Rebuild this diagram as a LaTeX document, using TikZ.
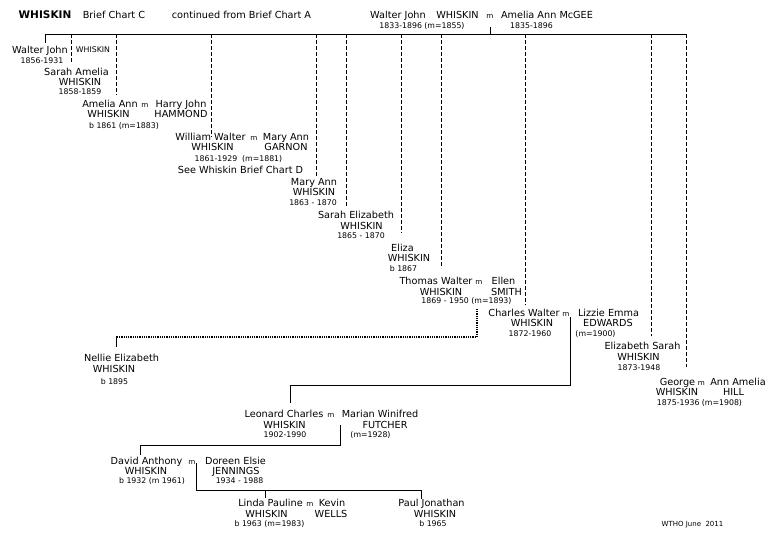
\documentclass[tikz,border=0pt]{standalone}
\usepackage{fontspec}
\setmainfont{DejaVu Sans}
\newcommand\myN{\fontsize{9.7}{11}\selectfont}
\newcommand\myD{\fontsize{7.8}{9}\selectfont}
\newcommand\myM{\fontsize{7.2}{8}\selectfont}
\newcommand\myH{\fontsize{10.5}{12}\selectfont\bfseries}
\newcommand\myS{\fontsize{7}{8}\selectfont}
\tikzset{
  nm/.style={font=\myN, anchor=base, inner sep=0pt},
  dt/.style={font=\myD, anchor=base, inner sep=0pt},
  mm/.style={font=\myM, anchor=base, inner sep=0pt},
  ln/.style={line width=0.8pt},
  dl/.style={line width=0.9pt, dash pattern=on 4pt off 2pt},
  dotl/.style={line width=1.3pt, dash pattern=on 1pt off 0.8pt},
}
\begin{document}
\begin{tikzpicture}[x=1pt,y=-1pt]
\fill[white] (0,0) rectangle (780,546);
\useasboundingbox (0,0) rectangle (780,546);

% header
\node[font=\myH, anchor=base, inner sep=0pt] (hW) at (45,19) {WHISKIN};
\node[nm] (hB) at (114,18.5) {Brief Chart C};
\node[nm] (hC) at (241.5,18.5) {continued from Brief Chart A};
\node[nm] (pWJ) at (398,18.5) {Walter John};
\node[nm] (pWH) at (457.5,18.5) {WHISKIN};
\node[mm] (pm) at (490,18.5) {m};
\node[nm] (pAA) at (547,18.5) {Amelia Ann McGEE};
\node[dt] (pd1) at (422,28) {1833-1896 (m=1855)};
\node[dt] (pd2) at (531.5,28) {1835-1896};

% bar
\coordinate (barL) at (45,34);
\coordinate (barR) at (686,34);
\coordinate (parT) at (490.5,27);
\coordinate (parB) at (490.5,34);
\draw[ln] (barL) -- (barR);
\draw[ln] (parT) -- (parB);

% child 1
\node[nm] (c1a) at (40,53.5) {Walter John};
\node[font=\fontsize{7.8}{9}\selectfont, anchor=base, inner sep=0pt] (c1b) at (93,52.8) {WHISKIN};
\node[dt] (c1c) at (42,63.8) {1856-1931};
\coordinate (e45) at (45,43);
\draw[ln] (barL) -- (e45);

% child 2
\node[nm] (c2a) at (76.5,75.5) {Sarah Amelia};
\node[nm] (c2b) at (80,85.5) {WHISKIN};
\node[dt] (c2c) at (80,94.8) {1858-1859};
\coordinate (t71) at (71,34); \coordinate (e71) at (71,62);
\draw[dl] (t71) -- (e71);

% child 3
\node[nm] (c3a) at (110,107.5) {Amelia Ann};
\node[mm] (c3m) at (145,107.5) {m};
\node[nm] (c3s) at (181,107.5) {Harry John};
\node[nm] (c3b) at (108.5,117.5) {WHISKIN};
\node[nm] (c3t) at (181,117.5) {HAMMOND};
\node[dt] (c3c) at (124,128.8) {b 1861 (m=1883)};
\coordinate (t116) at (116,34); \coordinate (e116) at (116,95);
\draw[dl] (t116) -- (e116);

% child 4
\node[nm] (c4a) at (210.5,140.5) {William Walter};
\node[mm] (c4m) at (254,140.5) {m};
\node[nm] (c4s) at (286,140.5) {Mary Ann};
\node[nm] (c4b) at (212.5,150.5) {WHISKIN};
\node[nm] (c4t) at (286,150.5) {GARNON};
\node[dt] (c4c) at (238.5,161.8) {1861-1929\ \ (m=1881)};
\node[nm] (c4d) at (240.5,173.5) {See Whiskin Brief Chart D};
\coordinate (t211) at (211,34); \coordinate (e211) at (211,137);
\draw[dl] (t211) -- (e211);

% child 5
\node[nm] (c5a) at (314,185.5) {Mary Ann};
\node[nm] (c5b) at (314,195.5) {WHISKIN};
\node[dt] (c5c) at (313,205.8) {1863 - 1870};
\coordinate (t316) at (316,34); \coordinate (e316) at (316,176);
\draw[dl] (t316) -- (e316);

% child 6
\node[nm] (c6a) at (356,218.5) {Sarah Elizabeth};
\node[nm] (c6b) at (361.5,229.5) {WHISKIN};
\node[dt] (c6c) at (361,238.8) {1865 - 1870};
\coordinate (t346) at (346,34); \coordinate (e346) at (346,206);
\draw[dl] (t346) -- (e346);

% child 7
\node[nm] (c7a) at (402.5,251.5) {Eliza};
\node[nm] (c7b) at (409,261.5) {WHISKIN};
\node[dt] (c7c) at (403.5,271.8) {b 1867};
\coordinate (t401) at (401,34); \coordinate (e401) at (401,233);
\draw[dl] (t401) -- (e401);

% child 8
\node[nm] (c8a) at (436,284.5) {Thomas Walter};
\node[mm] (c8m) at (479,284.5) {m};
\node[nm] (c8s) at (503.5,284.5) {Ellen};
\node[nm] (c8b) at (441,295.5) {WHISKIN};
\node[nm] (c8t) at (506.5,295.5) {SMITH};
\node[dt] (c8c) at (466.5,303.8) {1869 - 1950 (m=1893)};
\coordinate (t441) at (441,34); \coordinate (e441) at (441,268);
\draw[dl] (t441) -- (e441);

% child 9
\node[nm] (c9a) at (524,316.5) {Charles Walter};
\node[mm] (c9m) at (566,316.5) {m};
\node[nm] (c9s) at (608.5,316.5) {Lizzie Emma};
\node[nm] (c9b) at (532,326.5) {WHISKIN};
\node[nm] (c9t) at (608,326.5) {EDWARDS};
\node[dt] (c9c) at (530,336.8) {1872-1960};
\node[dt] (c9d) at (595.5,336.8) {(m=1900)};
\coordinate (t525) at (525,34); \coordinate (e525) at (525,305);
\draw[dl] (t525) -- (e525);

% child 10
\node[nm] (c10a) at (642.5,349.5) {Elizabeth Sarah};
\node[nm] (c10b) at (638.5,360.5) {WHISKIN};
\node[dt] (c10c) at (639,370.8) {1873-1948};
\coordinate (t651) at (651,34); \coordinate (e651) at (651,336);
\draw[dl] (t651) -- (e651);

% child 11
\node[nm] (c11a) at (677.5,385.5) {George};
\node[mm] (c11m) at (701.5,385.5) {m};
\node[nm] (c11s) at (738,385.5) {Ann Amelia};
\node[nm] (c11b) at (677,395.5) {WHISKIN};
\node[nm] (c11t) at (733.5,395.5) {HILL};
\node[dt] (c11c) at (699.5,405.8) {1875-1936 (m=1908)};
\coordinate (e686) at (686,367);
\draw[dl] (barR) -- (e686);

% Nellie
\node[nm] (n1a) at (121.5,361.5) {Nellie Elizabeth};
\node[nm] (n1b) at (114,372.5) {WHISKIN};
\node[dt] (n1c) at (114.5,384.8) {b 1895};
\coordinate (d1) at (477,309);
\coordinate (d2) at (477,337);
\coordinate (d3) at (116,337);
\coordinate (d4) at (116,347);
\draw[dotl] (d1) -- (d2) -- (d3);
\draw[ln] (d3) -- (d4);

% Leonard
\node[nm] (l1a) at (284,417.5) {Leonard Charles};
\node[mm] (l1m) at (331,417.5) {m};
\node[nm] (l1s) at (380,417.5) {Marian Winifred};
\node[nm] (l1b) at (284.5,428.5) {WHISKIN};
\node[nm] (l1t) at (385,428.5) {FUTCHER};
\node[dt] (l1c) at (285,437.8) {1902-1990};
\node[dt] (l1d) at (370.5,437.8) {(m=1928)};
\coordinate (k1) at (570,317);
\coordinate (k2) at (570,385);
\coordinate (k3) at (290,385);
\coordinate (k4) at (290,403);
\draw[ln] (k1) -- (k2) -- (k3) -- (k4);

% David
\node[nm] (v1a) at (146.5,464.5) {David Anthony};
\node[mm] (v1m) at (192,464.5) {m};
\node[nm] (v1s) at (235.5,464.5) {Doreen Elsie};
\node[nm] (v1b) at (146,474.5) {WHISKIN};
\node[nm] (v1t) at (236,474.5) {JENNINGS};
\node[dt] (v1c) at (152,483.8) {b 1932 (m 1961)};
\node[dt] (v1d) at (239.5,483.8) {1934 - 1988};
\coordinate (j1) at (340,425);
\coordinate (j2) at (340,445);
\coordinate (j3) at (140,445);
\coordinate (j4) at (140,455);
\draw[ln] (j1) -- (j2) -- (j3) -- (j4);

% Linda, Paul
\node[nm] (g1a) at (270.5,506.5) {Linda Pauline};
\node[mm] (g1m) at (310,506.5) {m};
\node[nm] (g1s) at (332,506.5) {Kevin};
\node[nm] (g1b) at (266.5,517.5) {WHISKIN};
\node[nm] (g1t) at (331,517.5) {WELLS};
\node[dt] (g1c) at (269.5,526.8) {b 1963 (m=1983)};
\node[nm] (g2a) at (431.5,506.5) {Paul Jonathan};
\node[nm] (g2b) at (435,517.5) {WHISKIN};
\node[dt] (g2c) at (433,526.8) {b 1965};
\coordinate (q1) at (196,463);
\coordinate (q2) at (196,490.5);
\coordinate (q3) at (421,490.5);
\coordinate (q4) at (421,499);
\coordinate (q5) at (265,490.5);
\coordinate (q6) at (265,498);
\draw[ln] (q1) -- (q2) -- (q3) -- (q4);
\draw[ln] (q5) -- (q6);

\node[font=\myS, anchor=base, inner sep=0pt] (wt) at (692.5,526.8) {WTHO June\ \ 2011};
\end{tikzpicture}
\end{document}
